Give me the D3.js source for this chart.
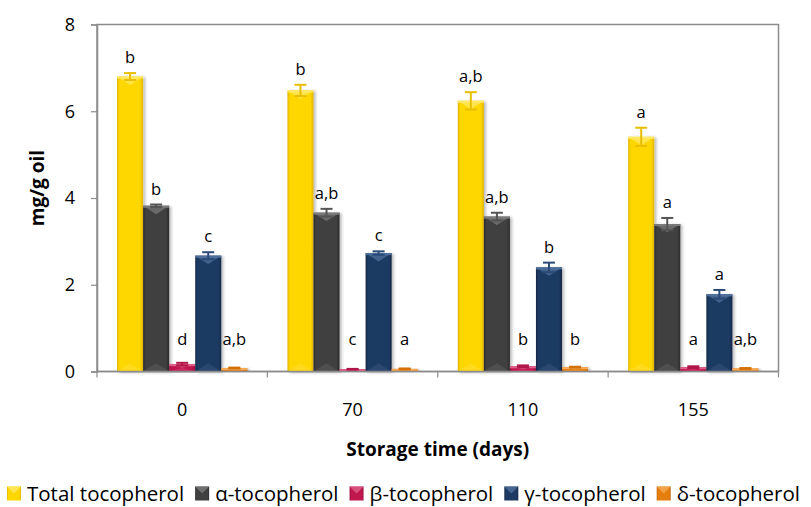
<!DOCTYPE html>
<html>
<head>
<meta charset="utf-8">
<script src="https://cdn.jsdelivr.net/npm/d3@7"></script>
<style>
  html, body { margin: 0; padding: 0; background: #ffffff; }
  svg { display: block; }
  text { font-family: "Open Sans", Lato, sans-serif; fill: #000; }
</style>
</head>
<body>
<svg id="chart" width="811" height="507"></svg>
<script>
// Storage days
const categories = ["0", "70", "110", "155"];
const seriesNames = ["Total tocopherol", "α-tocopherol", "β-tocopherol", "γ-tocopherol", "δ-tocopherol"];

// Mean contents (mg/g oil) per storage time
const totalToco = [6.80, 6.48, 6.24, 5.41];
const alphaToco = [3.82, 3.66, 3.57, 3.40];
const betaToco  = [0.17, 0.05, 0.12, 0.10];
const gammaToco = [2.67, 2.73, 2.40, 1.78];
const deltaToco = [0.08, 0.06, 0.10, 0.07];

// Standard deviations
const totalErr = [0.08, 0.13, 0.20, 0.21];
const alphaErr = [0.03, 0.09, 0.09, 0.14];
const betaErr  = [0.03, 0.01, 0.02, 0.02];
const gammaErr = [0.08, 0.04, 0.11, 0.10];
const deltaErr = [0.01, 0.01, 0.01, 0.01];

// Significance letters
const totalSig = ["b", "b", "a,b", "a"];
const alphaSig = ["b", "a,b", "a,b", "a"];
const betaSig  = ["d", "c", "b", "a"];
const gammaSig = ["c", "c", "b", "a"];
const deltaSig = ["a,b", "a", "b", "a,b"];

const yTicks = [0, 2, 4, 6, 8];

const seriesValues = [totalToco, alphaToco, betaToco, gammaToco, deltaToco];
const seriesErrors = [totalErr, alphaErr, betaErr, gammaErr, deltaErr];
const seriesSig = [totalSig, alphaSig, betaSig, gammaSig, deltaSig];

// fill, edge shade, highlight, error-bar colour
const palette = [
  { base: "#FFD700", edge: "#E0B400", light: "#FFE866", err: "#E8BE00" },
  { base: "#404040", edge: "#2A2A2A", light: "#7A7A7A", err: "#555555" },
  { base: "#C0174F", edge: "#98103C", light: "#E0608A", err: "#B01548" },
  { base: "#1F3A62", edge: "#142848", light: "#50709C", err: "#2A4A78" },
  { base: "#E67E0E", edge: "#C06408", light: "#F5AA55", err: "#D47008" }
];

const svg = d3.select("#chart");
const plot = { left: 97, right: 778.5, top: 24.5, bottom: 371.5 };

const x0 = d3.scaleBand().domain(categories).range([plot.left, plot.right]).paddingInner(0).paddingOuter(0);
const x1 = d3.scaleBand().domain(d3.range(seriesNames.length)).range([0, x0.bandwidth()]).paddingInner(0).paddingOuter(0.77);
const y = d3.scaleLinear().domain([0, 8]).range([plot.bottom, plot.top]);

const defs = svg.append("defs");
palette.forEach((p, i) => {
  const g = defs.append("linearGradient").attr("id", "bar-grad-" + i)
    .attr("x1", "0%").attr("x2", "100%").attr("y1", "0%").attr("y2", "0%");
  g.append("stop").attr("offset", "0%").attr("stop-color", p.edge);
  g.append("stop").attr("offset", "10%").attr("stop-color", p.base);
  g.append("stop").attr("offset", "88%").attr("stop-color", p.base);
  g.append("stop").attr("offset", "100%").attr("stop-color", p.edge);
});
const shadow = defs.append("filter").attr("id", "bar-shadow")
  .attr("x", "-20%").attr("y", "-5%").attr("width", "150%").attr("height", "115%");
shadow.append("feDropShadow").attr("dx", 2).attr("dy", 1).attr("stdDeviation", 1.4)
  .attr("flood-color", "#000").attr("flood-opacity", 0.28);

// Plot area frame
svg.append("rect")
  .attr("x", plot.left).attr("y", plot.top)
  .attr("width", plot.right - plot.left).attr("height", plot.bottom - plot.top)
  .attr("fill", "none").attr("stroke", "#8C8C8C").attr("stroke-width", 1.5);

// Bevelled column
function drawColumn(g, bx, bw, yTop, yBot, i) {
  const p = palette[i];
  const h = yBot - yTop;
  const bev = Math.min(bw * 0.32, h / 2);
  const col = g.append("g").attr("filter", "url(#bar-shadow)");
  col.append("rect").attr("x", bx).attr("y", yTop).attr("width", bw).attr("height", h)
    .attr("fill", "url(#bar-grad-" + i + ")");
  col.append("polygon")
    .attr("points", [[bx, yTop], [bx + bw, yTop], [bx + bw / 2, yTop + bev]].map(d => d.join(",")).join(" "))
    .attr("fill", p.light).attr("opacity", 0.75);
  col.append("rect").attr("x", bx).attr("y", yTop).attr("width", bw).attr("height", Math.min(2, h))
    .attr("fill", p.light);
  col.append("polygon")
    .attr("points", [[bx, yBot], [bx + bw, yBot], [bx + bw / 2, yBot - bev]].map(d => d.join(",")).join(" "))
    .attr("fill", p.light).attr("opacity", 0.25);
}

const bars = svg.append("g");
const labels = svg.append("g").attr("font-size", 16.5).attr("text-anchor", "middle");
const minLabelY = y(0.6);

categories.forEach((c, ci) => {
  seriesValues.forEach((vals, si) => {
    const v = vals[ci], e = seriesErrors[si][ci];
    const bx = x0(c) + x1(si), bw = x1.bandwidth();
    const g = bars.append("g");
    drawColumn(g, bx, bw, y(v), y(0), si);
    // error bar
    const cx = bx + bw / 2;
    const eg = g.append("g").attr("stroke", palette[si].err).attr("stroke-width", 2);
    eg.append("line").attr("x1", cx).attr("x2", cx).attr("y1", y(Math.max(0, v - e))).attr("y2", y(v + e));
    eg.append("line").attr("x1", cx - 6).attr("x2", cx + 6).attr("y1", y(v + e)).attr("y2", y(v + e));
    eg.append("line").attr("x1", cx - 6).attr("x2", cx + 6).attr("y1", y(Math.max(0, v - e))).attr("y2", y(Math.max(0, v - e)));
    labels.append("text").attr("x", cx)
      .attr("y", Math.min(y(v + e) - 10, minLabelY))
      .text(seriesSig[si][ci]);
  });
});

// Axes
const yAxis = d3.axisLeft(y).tickValues(yTicks).tickSize(6).tickPadding(16).tickFormat(d3.format("d"));
const yg = svg.append("g").attr("transform", `translate(${plot.left},0)`).call(yAxis);
yg.select(".domain").attr("stroke", "#8C8C8C").attr("stroke-width", 1.5);
yg.selectAll(".tick line").attr("stroke", "#8C8C8C").attr("stroke-width", 1.2);
yg.selectAll(".tick text").attr("font-size", 18).attr("font-family", "'Open Sans', Lato, sans-serif").attr("fill", "#000");

const xBoundaries = categories.map(c => x0(c)).concat([plot.right]);
const xg = svg.append("g");
xg.append("line").attr("x1", plot.left).attr("x2", plot.right).attr("y1", plot.bottom).attr("y2", plot.bottom)
  .attr("stroke", "#8C8C8C").attr("stroke-width", 1.5);
xg.selectAll("line.tk").data(xBoundaries).join("line").attr("class", "tk")
  .attr("x1", d => d).attr("x2", d => d).attr("y1", plot.bottom).attr("y2", plot.bottom + 6)
  .attr("stroke", "#8C8C8C").attr("stroke-width", 1.2);
xg.selectAll("text").data(categories).join("text")
  .attr("x", d => x0(d) + x0.bandwidth() / 2).attr("y", 416)
  .attr("text-anchor", "middle").attr("font-size", 18).text(d => d);

// Axis titles
svg.append("text").attr("x", (plot.left + plot.right) / 2).attr("y", 456)
  .attr("text-anchor", "middle").attr("font-size", 19).attr("font-weight", "bold")
  .text("Storage time (days)");
svg.append("text").attr("transform", "translate(44,188) rotate(-90)")
  .attr("text-anchor", "middle").attr("font-size", 19).attr("font-weight", "bold")
  .text("mg/g oil");

// Legend
const legend = svg.append("g").attr("font-size", 20.5);
let lx = 7;
seriesNames.forEach((name, i) => {
  const p = palette[i];
  const item = legend.append("g");
  const s = 14, sy = 486.5;
  item.append("rect").attr("x", lx).attr("y", sy).attr("width", s).attr("height", s)
    .attr("fill", "url(#bar-grad-" + i + ")");
  item.append("polygon")
    .attr("points", [[lx, sy], [lx + s, sy], [lx + s / 2, sy + s / 2]].map(d => d.join(",")).join(" "))
    .attr("fill", p.light).attr("opacity", 0.8);
  const t = item.append("text").attr("x", lx + s + 6).attr("y", 500.5).text(name);
  lx += s + 6 + t.node().getComputedTextLength() + 11;
});
</script>
</body>
</html>
